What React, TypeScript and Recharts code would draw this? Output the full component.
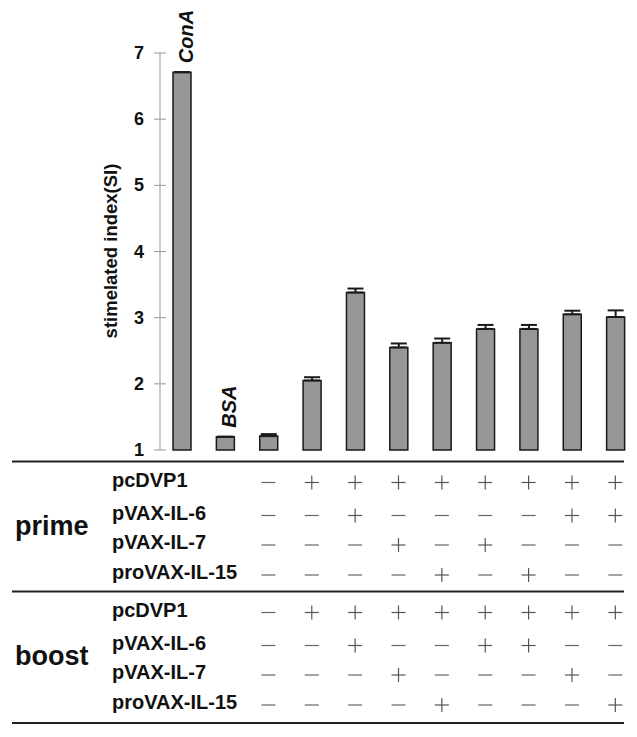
import { Bar, BarChart, ErrorBar, LabelList, XAxis, YAxis } from "recharts";

const FONT = "'Liberation Sans', Arial, Helvetica, sans-serif";

const groups = ["ConA", "BSA", "g1", "g2", "g3", "g4", "g5", "g6", "g7", "g8", "g9"];
const barLabels = ["ConA", "BSA", "", "", "", "", "", "", "", "", ""];
const si = [6.71, 1.2, 1.21, 2.05, 3.38, 2.55, 2.62, 2.83, 2.83, 3.05, 3.01];
const sem = [0, 0, 0.03, 0.05, 0.06, 0.06, 0.065, 0.06, 0.06, 0.055, 0.1];
const yTicks = [1, 2, 3, 4, 5, 6, 7];

const plasmids = ["pcDVP1", "pVAX-IL-6", "pVAX-IL-7", "proVAX-IL-15"];
// one string per row, one char per group ("." = no entry)
const primeRows = ["..-++++++++", "..--+----++", "..---+-+---", "..----+-+--"];
const boostRows = ["..-++++++++", "..--+--++--", "..---+---+-", "..----+---+"];

const rowOffsets = [18, 51, 80.5, 110.5];
const primeTop = 461.5;
const boostTop = 591.5;
const tableEnd = 723;

const data = groups.map((name, i) => ({
  name,
  label: barLabels[i],
  si: si[i],
  err: [0, sem[i]]
}));

function YTick(props: any) {
  const { x, y, payload } = props;
  return (
    <g>
      <line x1={x - 6} x2={x + 6} y1={y} y2={y} stroke="#999" strokeWidth={1} />
      <text x={x - 16} y={y} textAnchor="end" dominantBaseline="central" fontFamily={FONT} fontWeight="bold" fontSize={18} fill="#111">
        {payload.value}
      </text>
    </g>
  );
}

function SignColumn(props: any) {
  const { x, index } = props;
  const cells: any[] = [];
  [primeRows, boostRows].forEach((rows, b) => {
    const top = b === 0 ? primeTop : boostTop;
    rows.forEach((row, r) => {
      const ch = row[index];
      if (!ch || ch === ".") return;
      const cy = top + rowOffsets[r] + 3;
      cells.push(
        ch === "+" ? (
          <g key={`${b}-${r}`} stroke="#555" strokeWidth={1.2}>
            <line x1={x - 7} x2={x + 7} y1={cy} y2={cy} />
            <line x1={x} x2={x} y1={cy - 7} y2={cy + 7} />
          </g>
        ) : (
          <line key={`${b}-${r}`} x1={x - 7} x2={x + 7} y1={cy} y2={cy} stroke="#666" strokeWidth={1.2} />
        )
      );
    });
  });
  return <g>{cells}</g>;
}

function BarTag(props: any) {
  const { x, y, width, value } = props;
  if (!value) return null;
  const cx = x + width / 2 + 4;
  const ty = y - 9;
  return (
    <text
      x={cx}
      y={ty}
      transform={`rotate(-90 ${cx} ${ty})`}
      textAnchor="start"
      dominantBaseline="central"
      fontFamily={FONT}
      fontWeight="bold"
      fontStyle="italic"
      fontSize={20}
      fill="#111"
    >
      {value}
    </text>
  );
}

export default function App() {
  return (
    <div style={{ position: "absolute", left: 0, top: 0, width: 637, height: 737, background: "#fff" }}>
      <BarChart width={637} height={737} data={data} margin={{ top: 53, right: 0, left: 100, bottom: 0 }} barSize={18}>
        <XAxis dataKey="name" type="category" interval={0} height={287} axisLine={false} tickLine={false} tickSize={0} tickMargin={0} tick={<SignColumn />} />
        <YAxis
          domain={[1, 7]}
          ticks={yTicks}
          width={60}
          axisLine={{ stroke: "#999", strokeWidth: 1 }}
          tickLine={false}
          tickSize={0}
          tickMargin={0}
          tick={<YTick />}
        />
        <Bar dataKey="si" fill="#979797" stroke="#1a1a1a" strokeWidth={1.5} isAnimationActive={false}>
          <ErrorBar dataKey="err" direction="y" width={8} stroke="#1a1a1a" strokeWidth={2} isAnimationActive={false} />
          <LabelList dataKey="label" content={<BarTag />} />
        </Bar>
      </BarChart>
      <svg width={637} height={737} style={{ position: "absolute", left: 0, top: 0, pointerEvents: "none" }}>
        <text
          x={110}
          y={251}
          transform="rotate(-90 110 251)"
          textAnchor="middle"
          dominantBaseline="central"
          fontFamily={FONT}
          fontWeight="bold"
          fontSize={18.5}
          fill="#111"
        >
          stimelated index(SI)
        </text>
        {[primeTop, boostTop, tableEnd].map((ly) => (
          <line key={ly} x1={12} x2={624} y1={ly} y2={ly} stroke="#222" strokeWidth={2} />
        ))}
        {[
          { name: "prime", top: primeTop },
          { name: "boost", top: boostTop }
        ].map((g) => (
          <g key={g.name}>
            <text x={15} y={g.top + 64.5} dominantBaseline="central" fontFamily={FONT} fontWeight="bold" fontSize={27} fill="#111">
              {g.name}
            </text>
            {plasmids.map((p, r) => (
              <text key={p} x={112} y={g.top + rowOffsets[r]} dominantBaseline="central" fontFamily={FONT} fontWeight="bold" fontSize={20} fill="#111">
                {p}
              </text>
            ))}
          </g>
        ))}
      </svg>
    </div>
  );
}
